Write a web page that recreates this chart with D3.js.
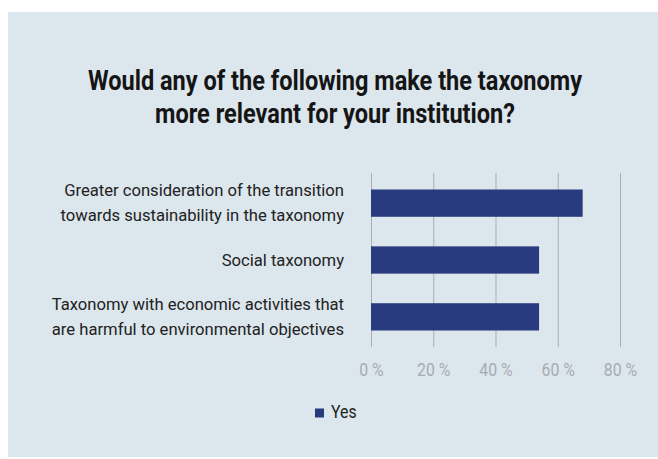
<!DOCTYPE html>
<html>
<head>
<meta charset="utf-8">
<script src="https://cdn.jsdelivr.net/npm/d3@7"></script>
<style>
  html, body { margin: 0; padding: 0; background: #ffffff; }
  svg { display: block; }
  text { font-family: Roboto, "Liberation Sans", sans-serif; }
</style>
</head>
<body>
<svg id="chart" width="658" height="459"></svg>
<script>
// Survey answers: share of "Yes" per option
const categories = [
  ["Greater consideration of the transition", "towards sustainability in the taxonomy"],
  ["Social taxonomy"],
  ["Taxonomy with economic activities that", "are harmful to environmental objectives"]
];
const yesValues = [0.68, 0.54, 0.54];
const tickValues = [0, 0.2, 0.4, 0.6, 0.8];
const tickLabels = ["0 %", "20 %", "40 %", "60 %", "80 %"];
const seriesName = "Yes";
const titleLines = [
  "Would any of the following make the taxonomy",
  "more relevant for your institution?"
];

const W = 658, H = 459;
const barColor = "#283b7f";
const panelColor = "#dce6ed";
const gridColor = "#a9aeb3";

const svg = d3.select("#chart");

// background panel
svg.append("rect")
  .attr("x", 8).attr("y", 12)
  .attr("width", W - 8).attr("height", H - 14)
  .attr("fill", panelColor);

// narrow text helper: anchor point, then squeeze horizontally
function narrowText(parent, x, y, str, anchor, squeeze) {
  return parent.append("g")
    .attr("transform", `translate(${x},${y}) scale(${squeeze},1)`)
    .append("text")
    .attr("text-anchor", anchor)
    .text(str);
}

// title
const titleG = svg.append("g")
  .attr("font-size", 27).attr("font-weight", 700).attr("fill", "#151515");
titleLines.forEach((t, i) => narrowText(titleG, 335, 90 + i * 33, t, "middle", 0.872));

// scales
const x = d3.scaleLinear().domain([0, 0.8]).range([371, 620]);
const y = d3.scaleBand()
  .domain(d3.range(categories.length))
  .range([173, 347])
  .paddingInner(0.52)
  .paddingOuter(0.29);

// gridlines + tick labels through a bottom axis
const axis = d3.axisBottom(x)
  .tickValues(tickValues)
  .tickSize(-(y.range()[1] - y.range()[0]))
  .tickPadding(0)
  .tickFormat((d, i) => tickLabels[i]);

const axisG = svg.append("g")
  .attr("transform", `translate(0,${y.range()[1]})`)
  .call(axis);
axisG.select(".domain").remove();
axisG.selectAll(".tick line")
  .attr("stroke", gridColor).attr("stroke-width", 1);
axisG.selectAll(".tick text").remove();
axisG.selectAll(".tick").each(function (d, i) {
  d3.select(this).append("g")
    .attr("transform", `translate(0,29) scale(0.88,1)`)
    .append("text")
    .attr("text-anchor", "middle")
    .attr("font-size", 18)
    .attr("fill", "#a7acb1")
    .text(tickLabels[i]);
});

// bars
svg.append("g").selectAll("rect")
  .data(yesValues)
  .join("rect")
  .attr("x", x(0))
  .attr("y", (d, i) => y(i))
  .attr("width", d => x(d) - x(0))
  .attr("height", y.bandwidth())
  .attr("fill", barColor);

// category labels, right aligned
const labelG = svg.append("g")
  .attr("font-size", 17).attr("fill", "#222222");
categories.forEach((lines, i) => {
  const cy = y(i) + y.bandwidth() / 2;
  const lh = 24.5;
  const first = cy - (lines.length - 1) * lh / 2 + 5.5;
  lines.forEach((t, j) => narrowText(labelG, 344, first + j * lh, t, "end", 0.978));
});

// legend
const legend = svg.append("g");
legend.append("rect")
  .attr("x", 315).attr("y", 408.5)
  .attr("width", 9).attr("height", 9)
  .attr("fill", barColor);
narrowText(legend, 331, 417.5, seriesName, "start", 0.88)
  .attr("font-size", 18).attr("fill", "#222222");
</script>
</body>
</html>
